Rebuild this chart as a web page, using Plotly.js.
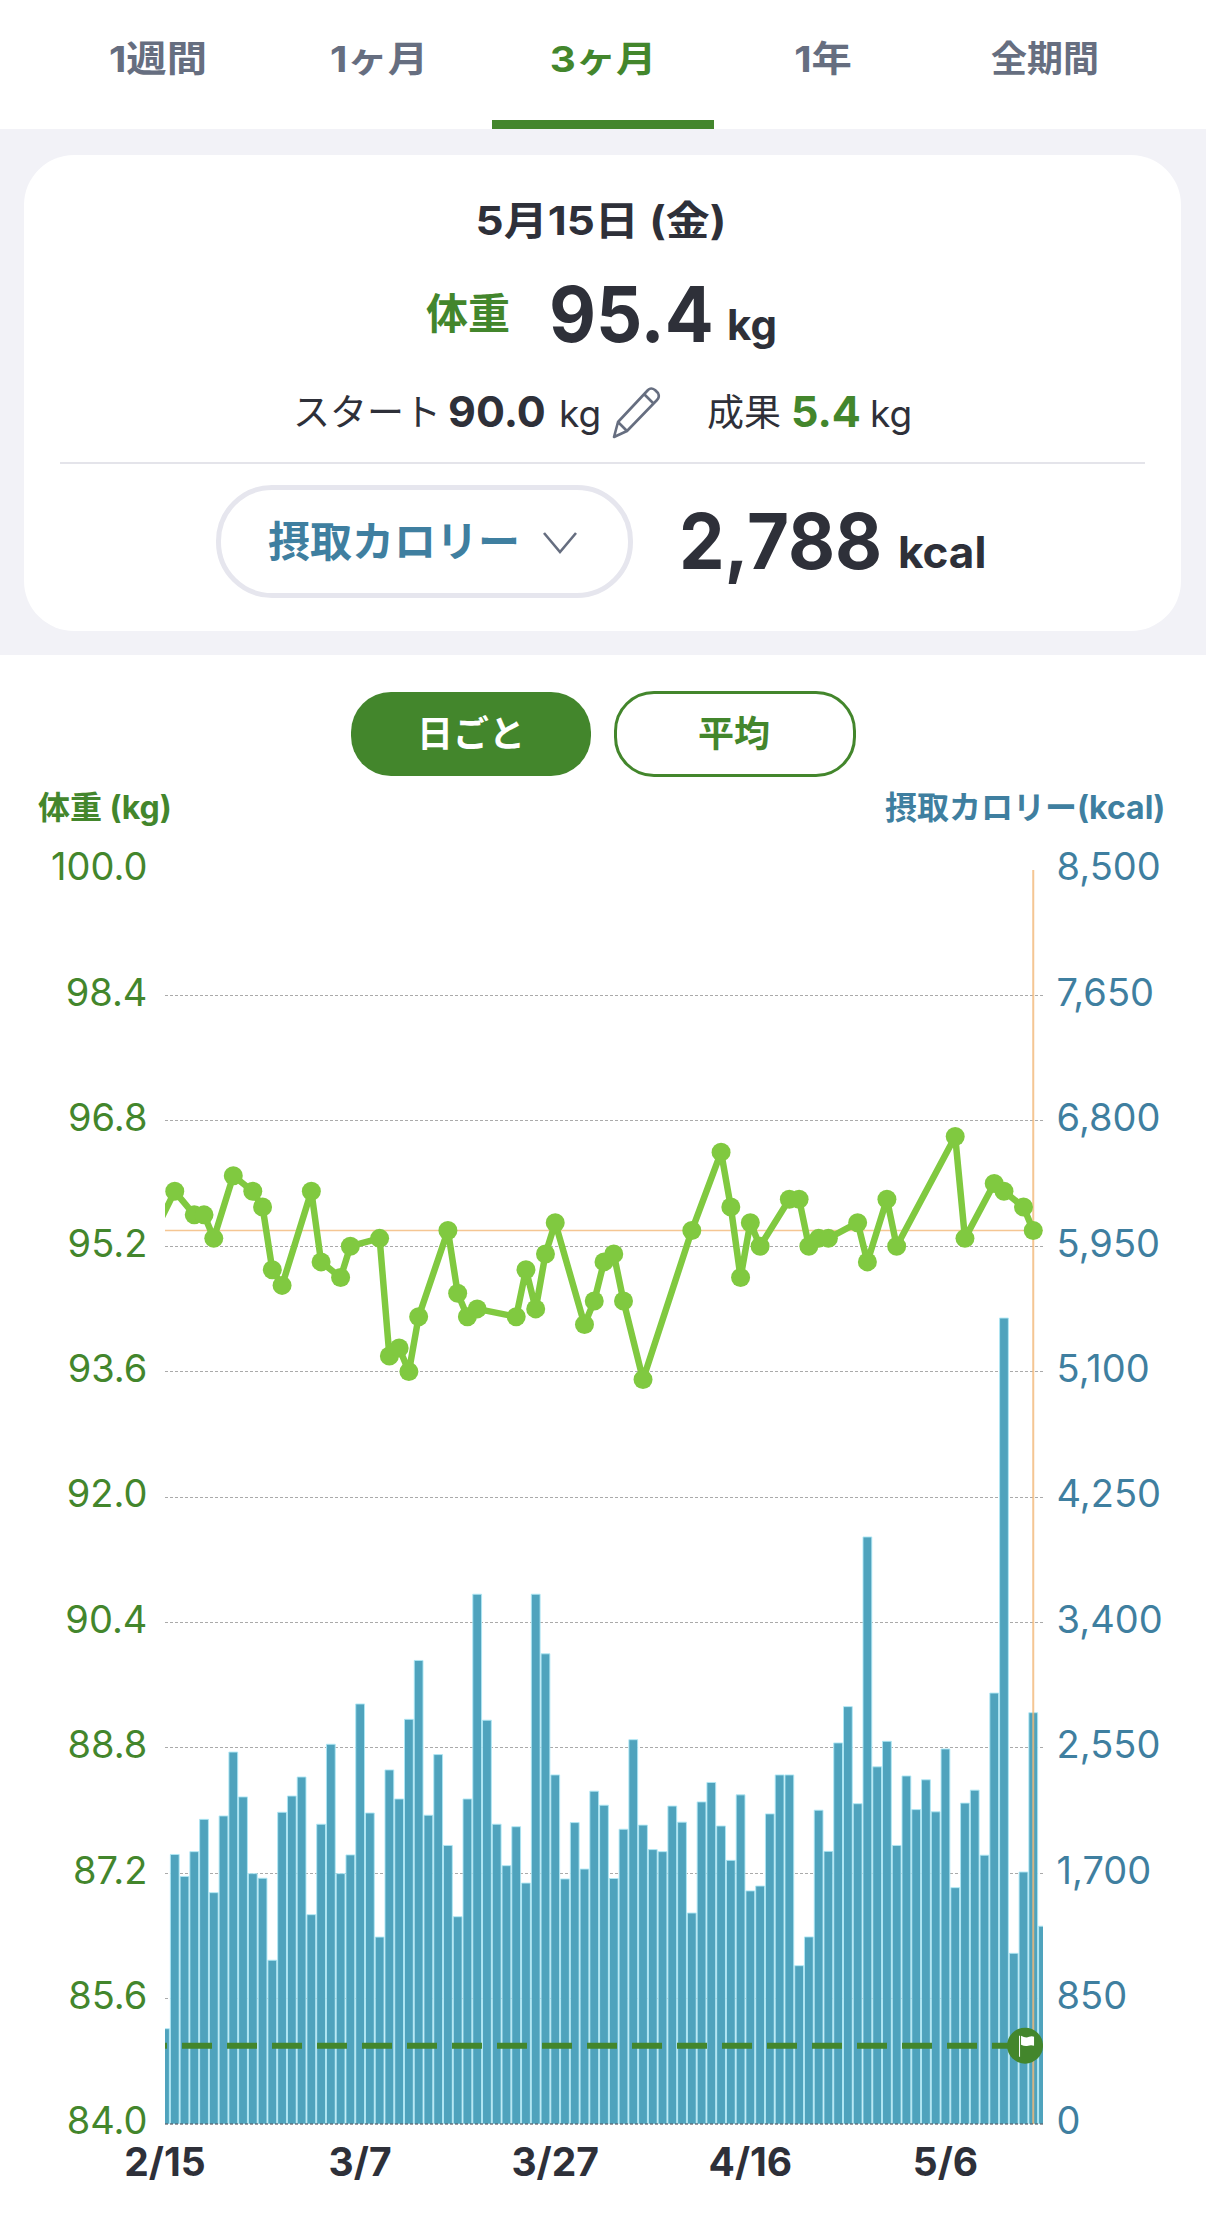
<!DOCTYPE html>
<html lang="ja">
<head>
<meta charset="utf-8">
<title>体重と摂取カロリー</title>
<script src="https://cdn.plot.ly/plotly-3.0.1.min.js"></script>
<style>
html,body{margin:0;padding:0;background:#fff;width:1206px;height:2219px;overflow:hidden;font-family:Inter,"Noto Sans CJK JP",sans-serif;color:#2e3039}
.a{position:absolute;white-space:nowrap;line-height:1}
.c{transform:translate(-50%,-50%)}
.m{transform:translateY(-50%)}
.b{font-weight:700}
.g{color:#43862c}
.t{color:#3f7fa0}
#chart{position:absolute;left:0;top:660px;width:1206px;height:1559px}
</style>
</head>
<body>
<div class="a" style="left:0;top:129px;width:1206px;height:526px;background:#f2f2f7"></div>
<div class="a" style="left:492px;top:120px;width:222px;height:9px;background:#43862c"></div>
<div id="tabs"></div>
<div class="a" style="left:24px;top:155px;width:1157px;height:476px;background:#fff;border-radius:50px"></div>
<div class="a b" style="left:601px;top:221px;font-size:40px;transform:translate(-50%,-50%) scaleX(1.1)">5月15日 (金)</div>
<div class="a c b g" style="left:468px;top:314px;font-size:42px">体重</div>
<div class="a b" style="left:549px;top:314px;font-size:77px;transform-origin:left center;transform:translateY(-50%) scaleX(0.94)">95.4</div>
<div class="a m b" style="left:727px;top:325px;font-size:42px">kg</div>
<div class="a m" style="left:293px;top:412px;font-size:37px">スタート</div>
<div class="a m b" style="left:448px;top:411px;font-size:43px">90.0</div>
<div class="a m" style="left:559px;top:413px;font-size:37px">kg</div>
<svg class="a" style="left:610px;top:385px" width="52" height="56" viewBox="0 0 52 56" fill="none" stroke="#666e80" stroke-width="2.6" stroke-linejoin="round"><path d="M4 52 L8 37 L38 5 Q41 2 45 5 L48 8 Q50 12 47 15 L17 46 Z M8 37 L17 46 M34 9 L44 19"/></svg>
<div class="a m" style="left:707px;top:412px;font-size:37px">成果</div>
<div class="a m b g" style="left:791px;top:411px;font-size:43px">5.4</div>
<div class="a m" style="left:870px;top:413px;font-size:37px">kg</div>
<div class="a" style="left:60px;top:462px;width:1085px;height:2px;background:#e4e4ea"></div>
<div class="a" style="left:216px;top:485px;width:407px;height:103px;border:5px solid #e6e6ee;border-radius:56px;background:#fff"></div>
<div class="a m b t" style="left:268px;top:542px;font-size:42px">摂取カロリー</div>
<svg class="a" style="left:541px;top:530px" width="38" height="26" viewBox="0 0 38 26" fill="none" stroke="#666e80" stroke-width="2.6"><path d="M3 3 L19 22 L35 3"/></svg>
<div class="a b" style="left:679px;top:541px;font-size:77px;transform-origin:left center;transform:translateY(-50%) scaleX(0.94)">2,788</div>
<div class="a m b" style="left:898px;top:552px;font-size:44px">kcal</div>
<div id="chart"></div>
<div class="a" style="left:351px;top:692px;width:240px;height:84px;background:#43862c;border-radius:40px"></div>
<div class="a c b" style="left:471px;top:734px;font-size:36px;color:#fff">日ごと</div>
<div class="a" style="left:614px;top:691px;width:236px;height:80px;border:3px solid #43862c;border-radius:40px;background:#fff"></div>
<div class="a c b g" style="left:734px;top:734px;font-size:36px">平均</div>
<script>
const tabLabels = ["1週間", "1ヶ月", "3ヶ月", "1年", "全期間"];
const activeTab = 2;

const dayTicks = [0, 20, 40, 60, 80];
const dayLabels = ["2/15", "3/7", "3/27", "4/16", "5/6"];
const kgTicks = [84, 85.6, 87.2, 88.8, 90.4, 92, 93.6, 95.2, 96.8, 98.4, 100];
const kgLabels = ["84.0", "85.6", "87.2", "88.8", "90.4", "92.0", "93.6", "95.2", "96.8", "98.4", "100.0"];
const kcalTicks = [0, 850, 1700, 2550, 3400, 4250, 5100, 5950, 6800, 7650, 8500];
const kcalLabels = ["0", "850", "1,700", "2,550", "3,400", "4,250", "5,100", "5,950", "6,800", "7,650", "8,500"];

const kcal = [646,1827,1678,1846,2065,1568,2088,2521,2217,1697,1666,1110,2113,2223,2352,1419,2032,2574,1697,1824,
  2847,2108,1267,2400,2203,2743,3142,2093,2504,1888,1405,2203,3591,2737,2032,1751,2015,1633,3591,3187,
  2366,1661,2043,1728,2256,2161,1664,1998,2605,2026,1860,1846,2155,2046,1430,2183,2315,2020,1787,2231,
  1580,1613,2102,2366,2366,1073,1268,2127,1848,2583,2829,2171,3979,2421,2594,1888,2359,2131,2333,2116,
  2542,1602,2175,2263,1822,2921,5463,1157,1708,2788,1341];

const weightDays = [-1,1,3,4,5,7,9,10,11,12,15,16,18,19,22,23,24,25,26,29,30,31,32,36,37,38,39,40,43,44,45,46,47,49,54,57,58,59,60,61,64,65,66,67,68,71,72,74,75,81,82,85,86,88,89];
const weightKg = [95.4,95.9,95.6,95.6,95.3,96.1,95.9,95.7,94.9,94.7,95.9,95.0,94.8,95.2,95.3,93.8,93.9,93.6,94.3,95.4,94.6,94.3,94.4,94.3,94.9,94.4,95.1,95.5,94.2,94.5,95.0,95.1,94.5,93.5,95.4,96.4,95.7,94.8,95.5,95.2,95.8,95.8,95.2,95.3,95.3,95.5,95.0,95.8,95.2,96.6,95.3,96.0,95.9,95.7,95.4];

const goalKg = 85.0;
const goalLineDays = [-2.87, 88.16];
const flagDay = 88.16;
const selectedDay = 89;
const selectedKg = 95.4;

const tabCenters = [158, 379, 603, 823, 1045];
const tabStretch = [1.12, 1.12, 1.12, 1.12, 1.0];
const tabs = document.getElementById("tabs");
tabLabels.forEach((t, i) => {
  const d = document.createElement("div");
  d.className = "a b";
  d.textContent = t;
  d.style.cssText = "left:" + tabCenters[i] + "px;top:59px;font-size:36px;transform:translate(-50%,-50%) scaleX(" + tabStretch[i] + ");color:" + (i === activeTab ? "#43862c" : "#666e80");
  tabs.appendChild(d);
});

const FONT = 'Inter, "Noto Sans CJK JP", sans-serif';
const GREEN = "#43862c", BLUE = "#3f7fa0", ORANGE = "rgba(242,184,120,0.8)";

const traces = [
  {type: "bar", x: kcal.map((_, i) => i), y: kcal, xaxis: "x", yaxis: "y", width: 0.9,
   marker: {color: "#4fa3bd", line: {color: "rgba(175,232,245,0.9)", width: 1}}, hoverinfo: "skip", showlegend: false},
  {type: "scatter", mode: "lines", x: [0, 90], y: [selectedKg, selectedKg], xaxis: "x", yaxis: "y2",
   line: {color: ORANGE, width: 1.5}, hoverinfo: "skip", showlegend: false},
  {type: "scatter", mode: "lines", x: [selectedDay, selectedDay], y: [84, 100], xaxis: "x", yaxis: "y2",
   line: {color: ORANGE, width: 2}, hoverinfo: "skip", showlegend: false},
  {type: "scatter", mode: "lines", x: goalLineDays, y: [goalKg, goalKg], xaxis: "x", yaxis: "y2",
   line: {color: GREEN, width: 6, dash: "30px,15px"}, hoverinfo: "skip", showlegend: false},
  {type: "scatter", mode: "lines+markers", x: weightDays, y: weightKg, xaxis: "x", yaxis: "y2",
   line: {color: "#80c940", width: 6.5}, marker: {color: "#80c940", size: 19}, hoverinfo: "skip", showlegend: false},
  {type: "scatter", mode: "markers", x: [flagDay], y: [goalKg], xaxis: "x", yaxis: "y2",
   marker: {color: GREEN, size: 36}, hoverinfo: "skip", showlegend: false}
];

const layout = {
  width: 1206, height: 1559, showlegend: false,
  margin: {l: 165, r: 163, t: 210, b: 95, pad: 0},
  paper_bgcolor: "#fff", plot_bgcolor: "#fff",
  font: {family: FONT},
  bargap: 0.1,
  xaxis: {type: "linear", range: [0, 90], tickmode: "array", tickvals: dayTicks, ticktext: dayLabels,
    tickfont: {family: FONT, size: 39, color: "#2e3039", weight: 700}, ticks: "outside", ticklen: 4, tickcolor: "rgba(0,0,0,0)",
    showgrid: false, zeroline: false, showline: false, fixedrange: true},
  yaxis: {side: "right", range: [0, 8500], tickmode: "array", tickvals: kcalTicks, ticktext: kcalLabels,
    tickfont: {family: FONT, size: 38, color: BLUE}, ticks: "outside", ticklen: 5, tickcolor: "rgba(0,0,0,0)", ticklabelshift: -3,
    showgrid: true, gridcolor: "#aaaaaa", griddash: "3px,2px", gridwidth: 1, zeroline: false, showline: false, fixedrange: true},
  yaxis2: {side: "left", overlaying: "y", range: [84, 100], tickmode: "array", tickvals: kgTicks, ticktext: kgLabels,
    tickfont: {family: FONT, size: 38, color: GREEN}, ticks: "outside", ticklen: 9, tickcolor: "rgba(0,0,0,0)", ticklabelshift: -3,
    showgrid: false, zeroline: false, showline: false, fixedrange: true},
  shapes: [
    {type: "line", xref: "paper", yref: "paper", x0: 0, x1: 1, y0: 0, y1: 0, layer: "above",
     line: {color: "#333844", width: 1, dash: "3px,2px"}},
    {type: "path", xref: "x", yref: "y2", xsizemode: "pixel", ysizemode: "pixel", xanchor: flagDay, yanchor: goalKg, layer: "above",
     path: "M -6 10 L -6 -11 L -5 -11 L -5 10 Z", fillcolor: "#fff", line: {width: 0}},
    {type: "path", xref: "x", yref: "y2", xsizemode: "pixel", ysizemode: "pixel", xanchor: flagDay, yanchor: goalKg, layer: "above",
     path: "M -4 10 Q 1 7 4 9 Q 7 10 9 9 L 9 0 Q 6 1 3 0 Q 0 -1 -4 1 Z", fillcolor: "#fff", line: {width: 0}}
  ],
  annotations: [
    {xref: "paper", yref: "paper", xanchor: "left", yanchor: "middle", x: (36 - 165) / 878, y: 1 + (870 - 808) / 1254,
     text: "<b>体重 (kg)</b>", showarrow: false, font: {family: FONT, size: 32, color: GREEN}},
    {xref: "paper", yref: "paper", xanchor: "right", yanchor: "middle", x: (1167 - 165) / 878, y: 1 + (870 - 808) / 1254,
     text: "<b>摂取カロリー(kcal)</b>", showarrow: false, font: {family: FONT, size: 32, color: BLUE}}
  ]
};

Plotly.newPlot("chart", traces, layout, {displayModeBar: false, staticPlot: true});
</script>
</body>
</html>
